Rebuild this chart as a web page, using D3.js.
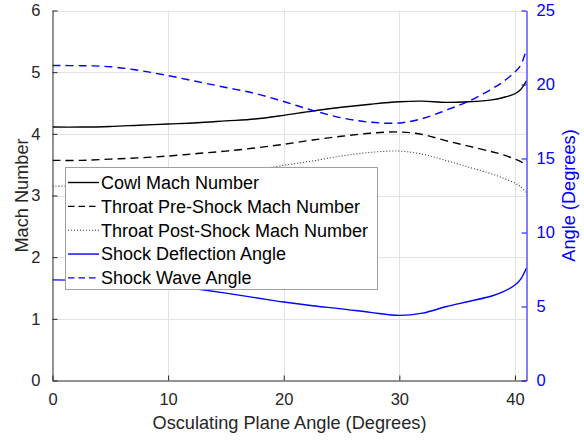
<!DOCTYPE html>
<html>
<head>
<meta charset="utf-8">
<script src="https://cdn.jsdelivr.net/npm/d3@7"></script>
<style>
  html, body { margin: 0; padding: 0; background: #fff; }
  svg { display: block; font-family: "Liberation Sans", Arial, Helvetica, sans-serif; }
</style>
</head>
<body>
<svg id="chart" width="584" height="440"></svg>
<script>
// Osculating plane angle (degrees) at which each quantity was sampled
const planeAngle = [0, 2.5, 5, 7.5, 10, 12.5, 15, 17.5, 20, 22.5, 25, 27.5, 30, 32, 34, 36, 38, 39, 40, 40.5, 41];

// Left axis: Mach numbers
const cowlMach      = [4.11, 4.11, 4.12, 4.14, 4.16, 4.18, 4.21, 4.24, 4.30, 4.37, 4.43, 4.48, 4.52, 4.53, 4.51, 4.52, 4.55, 4.59, 4.65, 4.72, 4.86];
const throatPreMach = [3.57, 3.57, 3.59, 3.61, 3.64, 3.68, 3.72, 3.77, 3.83, 3.90, 3.96, 4.01, 4.03, 3.99, 3.89, 3.80, 3.71, 3.66, 3.59, 3.55, 3.49];
const throatPostMach= [3.15, 3.16, 3.18, 3.21, 3.25, 3.29, 3.34, 3.41, 3.49, 3.56, 3.64, 3.70, 3.72, 3.67, 3.57, 3.46, 3.35, 3.28, 3.20, 3.14, 3.05];

// Right axis: angles (degrees)
const deflectionAngle = [6.80, 6.78, 6.72, 6.60, 6.45, 6.18, 5.90, 5.60, 5.30, 5.05, 4.84, 4.60, 4.40, 4.55, 4.98, 5.34, 5.71, 6.00, 6.45, 6.85, 7.60];
const shockWaveAngle  = [21.28, 21.27, 21.20, 20.95, 20.60, 20.20, 19.80, 19.40, 18.85, 18.25, 17.75, 17.45, 17.40, 17.70, 18.25, 18.87, 19.70, 20.20, 20.85, 21.30, 22.40];

const xTicks = [0, 10, 20, 30, 40];
const machTicks = [0, 1, 2, 3, 4, 5, 6];
const angleTicks = [0, 5, 10, 15, 20, 25];

const legendLabels = [
  "Cowl Mach Number",
  "Throat Pre-Shock Mach Number",
  "Throat Post-Shock Mach Number",
  "Shock Deflection Angle",
  "Shock Wave Angle"
];

const axisGray = "#262626";
const blue = "#0000ff";

const plot = { left: 52.5, right: 526.5, top: 10.5, bottom: 380.5 };

const svg = d3.select("#chart");

const x = d3.scaleLinear().domain([0, 41]).range([plot.left, plot.right]);
const yMach = d3.scaleLinear().domain([0, 6]).range([plot.bottom, plot.top]);
const yAngle = d3.scaleLinear().domain([0, 25]).range([plot.bottom, plot.top]);

// grid
const grid = svg.append("g").attr("stroke", "#e2e2e2").attr("stroke-width", 1);
grid.selectAll("line.gx").data(xTicks.filter(d => d > 0)).join("line")
  .attr("x1", d => Math.round(x(d)) + 0.5).attr("x2", d => Math.round(x(d)) + 0.5)
  .attr("y1", plot.top).attr("y2", plot.bottom);
grid.selectAll("line.gy").data(machTicks.filter(d => d > 0)).join("line")
  .attr("y1", d => Math.round(yMach(d)) + 0.5).attr("y2", d => Math.round(yMach(d)) + 0.5)
  .attr("x1", plot.left).attr("x2", plot.right);

// series
const series = [
  { label: legendLabels[0], values: cowlMach, scale: yMach, color: "#000", dash: null, width: 1.4 },
  { label: legendLabels[1], values: throatPreMach, scale: yMach, color: "#000", dash: "8,5", width: 1.4 },
  { label: legendLabels[2], values: throatPostMach, scale: yMach, color: "#333", dash: "1,2", width: 1.1 },
  { label: legendLabels[3], values: deflectionAngle, scale: yAngle, color: blue, dash: null, width: 1.4 },
  { label: legendLabels[4], values: shockWaveAngle, scale: yAngle, color: blue, dash: "8,5", width: 1.4 }
];

svg.append("clipPath").attr("id", "plotClip").append("rect")
  .attr("x", plot.left).attr("y", plot.top - 2)
  .attr("width", plot.right - plot.left).attr("height", plot.bottom - plot.top + 2);

const lines = svg.append("g").attr("clip-path", "url(#plotClip)");
series.forEach(s => {
  const gen = d3.line()
    .x((d, i) => x(planeAngle[i]))
    .y(d => s.scale(d))
    .curve(d3.curveCatmullRom.alpha(0.5));
  lines.append("path")
    .datum(s.values)
    .attr("d", gen)
    .attr("fill", "none")
    .attr("stroke", s.color)
    .attr("stroke-width", s.width)
    .attr("stroke-dasharray", s.dash);
});

// axes
const tickSize = 5;
const fontTick = 16.5;
const fmt = d3.format("d");

function styleAxis(g, color) {
  g.select(".domain").attr("stroke", color);
  g.selectAll(".tick line").attr("stroke", color);
  g.selectAll(".tick text").attr("fill", color).attr("font-size", fontTick)
    .attr("font-family", "Liberation Sans, Arial, sans-serif");
}

const xAxis = svg.append("g").attr("transform", `translate(0,${plot.bottom})`)
  .call(d3.axisBottom(x).tickValues(xTicks).tickFormat(fmt).tickSizeInner(-tickSize).tickSizeOuter(0).tickPadding(13));
styleAxis(xAxis, axisGray);

const yLeft = svg.append("g").attr("transform", `translate(${plot.left},0)`)
  .call(d3.axisLeft(yMach).tickValues(machTicks).tickFormat(fmt).tickSizeInner(-tickSize).tickSizeOuter(0).tickPadding(12));
styleAxis(yLeft, axisGray);

const yRight = svg.append("g").attr("transform", `translate(${plot.right},0)`)
  .call(d3.axisRight(yAngle).tickValues(angleTicks).tickFormat(fmt).tickSizeInner(-tickSize).tickSizeOuter(0).tickPadding(10));
styleAxis(yRight, blue);

// axis titles
const fontLabel = 18.2;
svg.append("text")
  .attr("x", (plot.left + plot.right) / 2).attr("y", 428.5)
  .attr("text-anchor", "middle").attr("font-size", fontLabel).attr("fill", axisGray)
  .text("Osculating Plane Angle (Degrees)");

svg.append("text")
  .attr("transform", `translate(28,${(plot.top + plot.bottom) / 2}) rotate(-90)`)
  .attr("text-anchor", "middle").attr("font-size", fontLabel).attr("fill", axisGray)
  .text("Mach Number");

svg.append("text")
  .attr("transform", `translate(575,${(plot.top + plot.bottom) / 2}) rotate(-90)`)
  .attr("text-anchor", "middle").attr("font-size", fontLabel).attr("fill", blue)
  .text("Angle (Degrees)");

// legend
const legend = svg.append("g");
const lg = { x: 65.5, y: 167.5, w: 312, h: 122, row0: 182.5, rowStep: 23.85 };
legend.append("rect")
  .attr("x", lg.x).attr("y", lg.y).attr("width", lg.w).attr("height", lg.h)
  .attr("fill", "#fff").attr("stroke", "#a0a0a0").attr("stroke-width", 1);

const items = legend.selectAll("g.item").data(series).join("g")
  .attr("transform", (d, i) => `translate(0,${lg.row0 + i * lg.rowStep})`);
items.append("line")
  .attr("x1", 68).attr("x2", 99).attr("y1", 0).attr("y2", 0)
  .attr("stroke", d => d.color).attr("stroke-width", d => d.width)
  .attr("stroke-dasharray", d => d.dash ? (d.dash === "8,5" ? "6.5,4" : d.dash) : null);
items.append("text")
  .attr("x", 101).attr("y", 0).attr("dy", "0.35em")
  .attr("font-size", 18).attr("fill", "#000")
  .text(d => d.label);
</script>
</body>
</html>
